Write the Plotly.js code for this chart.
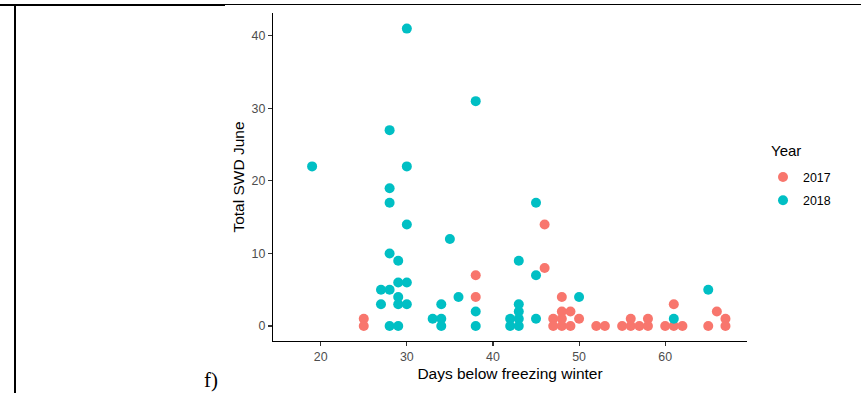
<!DOCTYPE html>
<html>
<head>
<meta charset="utf-8">
<script src="https://cdn.plot.ly/plotly-3.0.1.min.js"></script>
<style>
html,body{margin:0;padding:0;background:#fff;}
#chart{width:861px;height:393px;}
</style>
</head>
<body>
<div id="chart"></div>
<script>
// Data
const years = ["2017", "2018"];
const days2017 = [25,25,38,38,46,46,47,47,48,48,48,48,49,49,50,52,53,55,56,56,57,58,58,60,61,61,62,65,66,67,67];
const swd2017  = [1,0,7,4,14,8,1,0,4,2,1,0,2,0,1,0,0,0,1,0,0,1,0,0,3,0,0,0,2,1,0];
const days2018 = [19,30,38,28,30,28,28,30,35,28,29,45,43,45,27,28,29,30,27,29,29,30,28,29,33,34,34,34,36,38,38,42,42,43,43,43,43,45,50,61,65];
const swd2018  = [22,41,31,27,22,19,17,14,12,10,9,17,9,7,5,5,6,6,3,4,3,3,0,0,1,1,0,3,4,2,0,1,0,0,1,2,3,1,4,1,5];
const xTicks = [20,30,40,50,60];
const yTicks = [0,10,20,30,40];

const W = 861, H = 393;
const L = 273, R = 747, T = 13, B = 341;
const px = x => (x - L) / (R - L);
const py = y => (B - y) / (B - T);

const font = "Liberation Sans, Arial, sans-serif";

const traces = [
  {x: days2017, y: swd2017, name: years[0], legendgroup: "a", type: "scatter", mode: "markers",
   marker: {color: "#F8766D", size: 10}, cliponaxis: false},
  {x: days2018, y: swd2018, name: years[1], legendgroup: "b", type: "scatter", mode: "markers",
   marker: {color: "#00BFC4", size: 10}, cliponaxis: false}
];

const layout = {
  width: W, height: H,
  margin: {l: L, r: W - R, t: T, b: H - B, pad: 0},
  paper_bgcolor: "#fff", plot_bgcolor: "#fff",
  font: {family: font, color: "#000"},
  showlegend: true,
  legend: {
    x: px(763), y: py(162.5), xanchor: "left", yanchor: "top",
    font: {size: 12.4, color: "#000", family: font},
    traceorder: "grouped", tracegroupgap: 4, bgcolor: "rgba(0,0,0,0)"
  },
  xaxis: {
    range: [14.46, 69.5], tickvals: xTicks, ticktext: xTicks.map(String),
    showgrid: false, zeroline: false, showline: true, linecolor: "#000", linewidth: 1.1,
    ticks: "outside", ticklen: 4, tickwidth: 1.1, tickcolor: "#333",
    tickfont: {size: 12.4, color: "#4D4D4D", family: font},
    title: {text: "Days below freezing winter", font: {size: 15.5, color: "#000", family: font}, standoff: 5},
    automargin: false
  },
  yaxis: {
    range: [-2.07, 43.15], tickvals: yTicks, ticktext: yTicks.map(String),
    showgrid: false, zeroline: false, showline: true, linecolor: "#000", linewidth: 1.1,
    ticks: "outside", ticklen: 4, tickwidth: 1.1, tickcolor: "#333",
    tickfont: {size: 12.4, color: "#4D4D4D", family: font},
    title: {text: "Total SWD June", font: {size: 15.5, color: "#000", family: font}, standoff: 3},
    automargin: false
  },
  shapes: [
    {type: "line", xref: "paper", yref: "paper", x0: px(0), x1: px(861), y0: py(4.5), y1: py(4.5),
     line: {color: "#000", width: 1}},
    {type: "line", xref: "paper", yref: "paper", x0: px(0), x1: px(225), y0: py(5), y1: py(5),
     line: {color: "#000", width: 2.2}},
    {type: "line", xref: "paper", yref: "paper", x0: px(15), x1: px(15), y0: py(4), y1: py(393),
     line: {color: "#000", width: 2}}
  ],
  annotations: [
    {text: "Year", xref: "paper", yref: "paper", x: px(769), y: py(150), xanchor: "left", yanchor: "middle",
     showarrow: false, font: {family: font, size: 15, color: "#000"}},
    {text: "f)", xref: "paper", yref: "paper", x: px(202), y: py(380), xanchor: "left", yanchor: "middle",
     showarrow: false, font: {family: "Liberation Serif, Times New Roman, serif", size: 21, color: "#000"}}
  ]
};

Plotly.newPlot("chart", traces, layout, {displayModeBar: false, staticPlot: true});
</script>
</body>
</html>
